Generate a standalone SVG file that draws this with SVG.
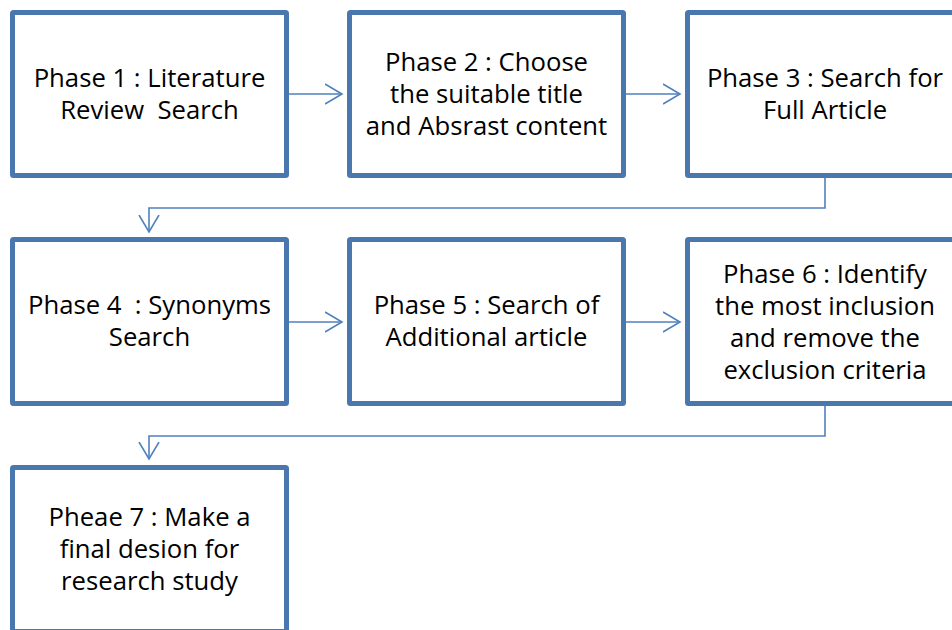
<svg xmlns="http://www.w3.org/2000/svg" width="952" height="630" viewBox="0 0 952 630">
<defs>
<style>
.box{fill:#ffffff;stroke:#4A77AE;stroke-width:5}
.t{font-family:"Open Sans","Noto Sans","Liberation Sans",sans-serif;font-size:25.7px;fill:#000;text-anchor:middle}
.c{fill:none;stroke:#4F81BD;stroke-width:1.6}
</style>
<marker id="arr" markerWidth="20" markerHeight="24" refX="17" refY="12" orient="auto" markerUnits="userSpaceOnUse" viewBox="0 0 20 24">
<path d="M0,2 L17,12 L0,22" fill="none" stroke="#4F81BD" stroke-width="1.6"/>
</marker>
</defs>
<rect width="952" height="630" fill="#ffffff"/>
<g id="connectors">
<path class="c" d="M289,94 H342" marker-end="url(#arr)"/>
<path class="c" d="M626,94 H680" marker-end="url(#arr)"/>
<path class="c" d="M825,178 V208 H149 V232" marker-end="url(#arr)"/>
<path class="c" d="M289,322 H342" marker-end="url(#arr)"/>
<path class="c" d="M626,322 H680" marker-end="url(#arr)"/>
<path class="c" d="M825,406 V436 H149 V459" marker-end="url(#arr)"/>
</g>
<g id="phase1">
<rect class="box" x="12.5" y="12.5" width="274" height="163" rx="1"/>
<text class="t" x="149.5" y="87">Phase 1 : Literature</text>
<text class="t" x="149.5" y="119" xml:space="preserve">Review  Search</text>
</g>
<g id="phase2">
<rect class="box" x="349.5" y="12.5" width="274" height="163" rx="1"/>
<text class="t" x="486.5" y="71">Phase 2 : Choose</text>
<text class="t" x="486.5" y="103">the suitable title</text>
<text class="t" x="486.5" y="135">and Absrast content</text>
</g>
<g id="phase3">
<rect class="box" x="687.5" y="12.5" width="274" height="163" rx="1"/>
<text class="t" x="825" y="87">Phase 3 : Search for</text>
<text class="t" x="825" y="119">Full Article</text>
</g>
<g id="phase4">
<rect class="box" x="12.5" y="239.5" width="274" height="164" rx="1"/>
<text class="t" x="149.5" y="314" xml:space="preserve">Phase 4  : Synonyms</text>
<text class="t" x="149.5" y="346">Search</text>
</g>
<g id="phase5">
<rect class="box" x="349.5" y="239.5" width="274" height="164" rx="1"/>
<text class="t" x="486.5" y="314">Phase 5 : Search of</text>
<text class="t" x="486.5" y="346">Additional article</text>
</g>
<g id="phase6">
<rect class="box" x="687.5" y="239.5" width="274" height="164" rx="1"/>
<text class="t" x="825" y="282.5">Phase 6 : Identify</text>
<text class="t" x="825" y="314.5">the most inclusion</text>
<text class="t" x="825" y="346.5">and remove the</text>
<text class="t" x="825" y="378.5">exclusion criteria</text>
</g>
<g id="phase7">
<rect class="box" x="12.5" y="467.5" width="274" height="164" rx="1"/>
<text class="t" x="149.5" y="526">Pheae 7 : Make a</text>
<text class="t" x="149.5" y="558">final desion for</text>
<text class="t" x="149.5" y="590">research study</text>
</g>
</svg>
